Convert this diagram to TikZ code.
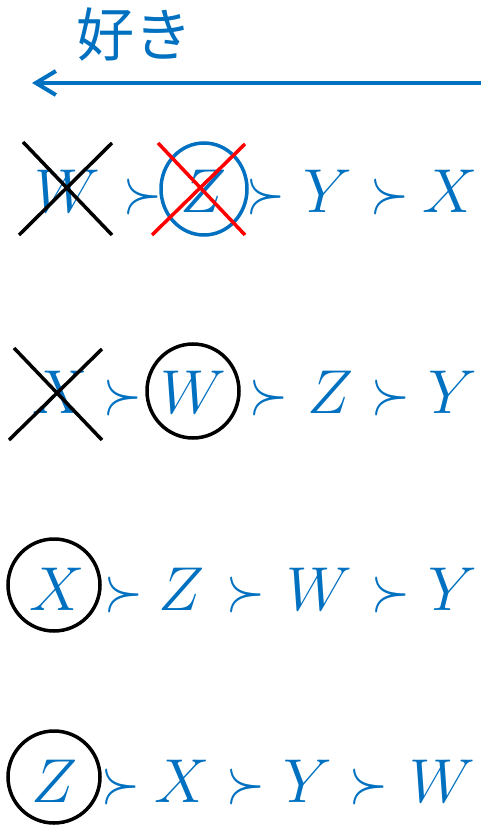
\RequirePackage{fix-cm}
\documentclass[tikz,border=0pt]{standalone}
\usepackage{fontspec}
\newfontfamily\cjk{Noto Sans CJK JP}
\usetikzlibrary{arrows.meta}
\definecolor{mblue}{HTML}{0070C0}
\definecolor{mred}{HTML}{FF0000}
\newcommand{\prefsucc}{\scalebox{0.8}[1]{$\succ$}}
\tikzset{
  sym/.style={anchor=base, inner sep=0pt, text=mblue, font=\fontsize{62}{70}\selectfont},
  ring/.style={draw=black, line width=3.5pt},
  bring/.style={draw=mblue, line width=3.5pt},
  crossk/.style={draw=black, line width=3.5pt},
  crossr/.style={draw=mred, line width=3.5pt},
  dirline/.style={draw=mblue, line width=4pt, -{Straight Barb[length=20pt,width=24pt]}}
}
\begin{document}
\begin{tikzpicture}[x=1pt,y=-1pt]
\useasboundingbox (0,0) rectangle (481,826);
% header
\node[inner sep=0pt, text=mblue, font=\cjk\fontsize{58}{60}\selectfont] (like) at (134,35) {好き};
\coordinate (astart) at (481,83);
\coordinate (atip) at (32,83);
\draw[dirline] (astart) -- (atip);
% row 1
\node[sym] (r1a) at (67,212) {$W$};
\node[sym] (r1b) at (143,212) {\prefsucc};
\node[sym] (r1c) at (203,212) {$Z$};
\node[sym] (r1d) at (266,212) {\prefsucc};
\node[sym] (r1e) at (328,212) {$Y$};
\node[sym] (r1f) at (390,212) {\prefsucc};
\node[sym] (r1g) at (450,212) {$X$};
\draw[bring] (204,189) ellipse [x radius=43pt, y radius=46pt];
\draw[crossk] (23,142) -- (112,235) (19,235) -- (112,143);
\draw[crossr] (158,143) -- (245,235) (152,235) -- (245,144);
% row 2
\node[sym] (r2a) at (60,413) {$X$};
\node[sym] (r2b) at (123,413) {\prefsucc};
\node[sym] (r2c) at (193,413) {$W$};
\node[sym] (r2d) at (269,413) {\prefsucc};
\node[sym] (r2e) at (330,413) {$Z$};
\node[sym] (r2f) at (391,413) {\prefsucc};
\node[sym] (r2g) at (453,413) {$Y$};
\draw[ring] (193,391) ellipse [x radius=46pt, y radius=47pt];
\draw[crossk] (14,348) -- (102,440) (9,440) -- (102,349);
% row 3
\node[sym] (r3a) at (57,610) {$X$};
\node[sym] (r3b) at (124,610) {\prefsucc};
\node[sym] (r3c) at (181,610) {$Z$};
\node[sym] (r3d) at (246,610) {\prefsucc};
\node[sym] (r3e) at (319,610) {$W$};
\node[sym] (r3f) at (391,610) {\prefsucc};
\node[sym] (r3g) at (453,610) {$Y$};
\draw[ring] (54,585) circle [radius=46pt];
% row 4
\node[sym] (r4a) at (55,802) {$Z$};
\node[sym] (r4b) at (121,802) {\prefsucc};
\node[sym] (r4c) at (182,802) {$X$};
\node[sym] (r4d) at (246,802) {\prefsucc};
\node[sym] (r4e) at (308,802) {$Y$};
\node[sym] (r4f) at (369,802) {\prefsucc};
\node[sym] (r4g) at (442,802) {$W$};
\draw[ring] (54,777) circle [radius=46pt];
\end{tikzpicture}
\end{document}
